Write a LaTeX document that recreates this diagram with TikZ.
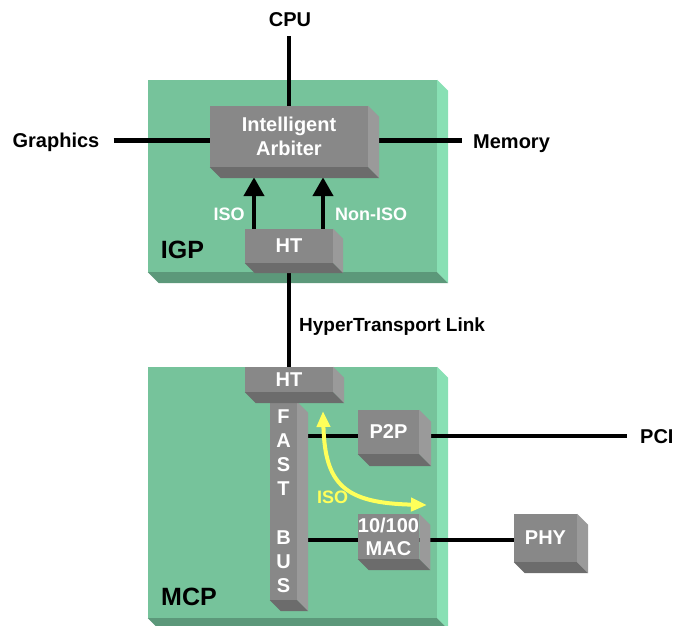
\documentclass[tikz,border=0pt]{standalone}
\usepackage{fontspec}
\setmainfont{Liberation Sans}
\usetikzlibrary{arrows.meta,calc}
\definecolor{grnF}{RGB}{118,195,155}
\definecolor{grnL}{RGB}{136,224,180}
\definecolor{grnD}{RGB}{92,152,122}
\definecolor{gryF}{RGB}{136,136,136}
\definecolor{gryL}{RGB}{154,154,154}
\definecolor{gryD}{RGB}{108,108,108}
\definecolor{ylw}{RGB}{255,255,90}
\pgfdeclarelayer{bg}
\pgfdeclarelayer{wires}
\pgfsetlayers{bg,wires,main}
\newcommand\boxfaces[4]{%
  \fill[#3] (#1.north east) -- ++(#2,#2) -- ([shift={(#2,#2)}]#1.south east) -- (#1.south east) -- cycle;
  \fill[#4] (#1.south west) -- (#1.south east) -- ([shift={(#2,#2)}]#1.south east) -- ([shift={(#2,#2)}]#1.south west) -- cycle;}
\begin{document}
\begin{tikzpicture}[x=1pt,y=-1pt,
  lbl/.style={inner sep=0pt, font=\fontsize{20}{24}\selectfont\bfseries, text=black},
  biglbl/.style={inner sep=0pt, font=\fontsize{25}{30}\selectfont\bfseries, text=black},
  smalllbl/.style={inner sep=0pt, font=\fontsize{18}{22}\selectfont\bfseries, text=white},
  greenbox/.style={fill=grnF, inner sep=0pt, draw=none},
  graybox/.style={fill=gryF, inner sep=0pt, text=white, align=center, font=\fontsize{20}{24}\selectfont\bfseries},
  wire/.style={line width=4.5pt, black},
  flow/.style={line width=4.5pt, black, -{Triangle[width=20pt,length=19pt]}},
  yflow/.style={line width=4pt, ylw, {Triangle[width=13pt,length=16pt]}-{Triangle[width=13pt,length=16pt]}}]
\useasboundingbox (0,0) rectangle (673,625);

% chip packages
\begin{pgfonlayer}{bg}
\node[greenbox, minimum width=289pt, minimum height=192pt] (igpbox) at (292.5,176) {};
\boxfaces{igpbox}{11}{grnL}{grnD}
\node[greenbox, minimum width=289pt, minimum height=251pt] (mcpbox) at (292.5,492.5) {};
\boxfaces{mcpbox}{11}{grnL}{grnD}
\end{pgfonlayer}

% outside labels
\node[lbl, anchor=base] (cpu) at (290,26.7) {CPU};
\node[lbl, anchor=base] (gfx) at (56,147.7) {Graphics};
\node[lbl, anchor=base west] (mem) at (473,148.3) {Memory};
\node[lbl, anchor=base west] (pci) at (640,443.3) {PCI};
\node[lbl, anchor=base west, font=\fontsize{19}{23}\selectfont\bfseries] (htl) at (299,331.7) {HyperTransport Link};
\node[biglbl, anchor=base west] (igp) at (160.7,258.3) {IGP};
\node[biglbl, anchor=base west] (mcp) at (161,605.7) {MCP};
\node[smalllbl, anchor=base west] (iso1) at (213.3,220) {ISO};
\node[smalllbl, anchor=base west] (niso) at (335,220) {Non-ISO};
\node[smalllbl, anchor=base west, text=ylw] (iso2) at (317,503.3) {ISO};

% gray blocks
\node[graybox, minimum width=158pt, minimum height=61pt] (arb) at (289,136.5) {Intelligent\\Arbiter};
\boxfaces{arb}{11}{gryL}{gryD}
\node[graybox, minimum width=88pt, minimum height=34pt] (ht1) at (289,246) {HT};
\boxfaces{ht1}{10}{gryL}{gryD}
\node[graybox, minimum width=27pt, minimum height=198pt] (fb) at (283.5,501) {F\\A\\S\\T\\[25pt]B\\U\\S};
\boxfaces{fb}{11}{gryL}{gryD}
\node[graybox, minimum width=88pt, minimum height=25pt] (ht2) at (289,379.5) {HT};
\boxfaces{ht2}{11}{gryL}{gryD}
\node[graybox, minimum width=61pt, minimum height=44pt] (p2p) at (388.5,432) {P2P};
\boxfaces{p2p}{12}{gryL}{gryD}
\node[graybox, minimum width=61pt, minimum height=45pt, font=\fontsize{20}{23}\selectfont\bfseries] (mac) at (388.5,536.5) {10/100\\MAC};
\boxfaces{mac}{11}{gryL}{gryD}
\node[graybox, minimum width=63pt, minimum height=48pt] (phy) at (545.5,538) {PHY};
\boxfaces{phy}{11}{gryL}{gryD}

% connectors
\coordinate (gl) at (0,140.5);
\coordinate (pl) at (0,436);
\coordinate (ml) at (0,540);
\coordinate (a1) at ([xshift=-35pt]ht1.north);
\coordinate (a2) at ([xshift=34pt]ht1.north);
\begin{pgfonlayer}{wires}
\draw[wire, shorten <=9pt] (arb.north |- cpu.south) -- (arb.north);
\draw[wire, shorten <=14pt] (gfx.east |- gl) -- (arb.west |- gl);
\draw[wire, shorten >=11pt] (arb.east |- gl) -- (mem.west |- gl);
\draw[wire] (ht1.south) -- (ht2.north);
\draw[flow, shorten >=10pt] (a1) -- (a1 |- arb.south);
\draw[flow, shorten >=10pt] (a2) -- (a2 |- arb.south);
\draw[wire] (fb.east |- pl) -- (p2p.west |- pl);
\draw[wire, shorten >=13pt] (p2p.east |- pl) -- (pci.west |- pl);
\draw[wire] (fb.east |- ml) -- (mac.west |- ml);
\draw[wire] (mac.east |- ml) -- (phy.west |- ml);
\end{pgfonlayer}

% isochronous path
\coordinate (ya) at (323,411);
\coordinate (yb) at (427,505);
\draw[yflow] (ya) .. controls (325,485) and (345,503) .. (yb);
\end{tikzpicture}
\end{document}
